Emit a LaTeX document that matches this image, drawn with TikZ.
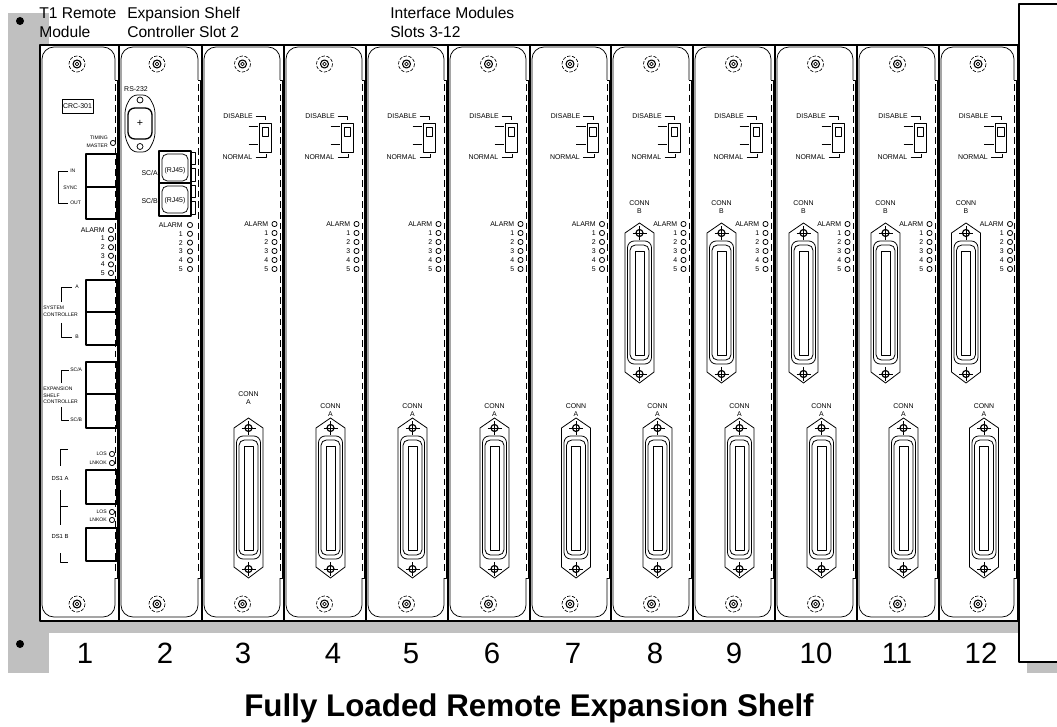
\documentclass[tikz,border=0pt]{standalone}
\usepackage{fontspec}
\setmainfont{Liberation Sans}
\definecolor{bg}{RGB}{192,192,192}
\newcommand\slotcard[2]{%
 \pgfmathsetmacro\sxl{#1+2}\pgfmathsetmacro\sxr{#2-4}%
 \draw[thinln, rounded corners=9] (\sxr,80) -- (\sxr,47) -- (\sxl,47) -- (\sxl,617) -- (\sxr,617) -- (\sxr,578);
 \draw[thinln] (\sxr,80) -- (\sxr+2,80) -- (\sxr+2,578) -- (\sxr,578);
 \draw[thinln, dash pattern=on 5pt off 3pt] (\sxr,84) -- (\sxr,574);
}
\begin{document}
\begin{tikzpicture}[x=0.75pt,y=-0.75pt,line join=round,
  lab/.style={font=\fontsize{5.2pt}{6pt}\selectfont, inner sep=0pt},
  tiny/.style={font=\fontsize{3.8pt}{4pt}\selectfont, inner sep=0pt},
  thinln/.style={line width=0.55pt},
  port/.style={line width=1pt},
  led/.style={line width=0.6pt},
  screw/.pic={
    \draw[line width=0.5pt, dash pattern=on 2.5pt off 1.2pt] (0,0) ellipse (8 and 8);
    \draw[line width=0.8pt] (0,0) circle (4);
    \draw[line width=0.5pt] (0,0) circle (1.8);
  },
  dconn/.pic={
    \draw[line width=0.6pt] (0,0) -- (14.5,10) -- (14.5,149) -- (0,160) -- (-14.5,149) -- (-14.5,10) -- cycle;
    \draw[line width=0.6pt, rounded corners=5] (-12,18) rectangle (12,141);
    \draw[line width=0.6pt, rounded corners=4] (-9.5,22) rectangle (9.5,137);
    \draw[line width=0.6pt] (-4.5,28) rectangle (4.5,132);
    \foreach \yy in {10,151} {
      \draw[line width=0.9pt] (0,\yy) circle (3.5);
      \draw[line width=0.6pt] (-7,\yy) -- (7,\yy) (0,\yy-7) -- (0,\yy+7);
    }
  }]
\useasboundingbox (0,0) rectangle (1057,727);
% background
\fill[bg] (8,13) rectangle (1057,673);
\fill[white] (49,0) rectangle (1019,45);
\fill[white] (49,633) rectangle (1027,673);
\draw[line width=1.5pt, fill=white] (1019,4) rectangle (1064,662);
\fill[white] (40,45) rectangle (1018,621);
\fill (20,21) circle (4);
\fill (20,644) circle (4);
% top labels
\begin{scope}[every node/.style={font=\fontsize{11.7pt}{12pt}\selectfont, inner sep=0pt, anchor=base west}]
\node (t1a) at (39,19) {T1 Remote};
\node (t1b) at (39,38) {Module};
\node (esa) at (127,19) {Expansion Shelf};
\node (esb) at (127,38) {Controller Slot 2};
\node (ima) at (390,19) {Interface Modules};
\node (imb) at (390,38) {Slots 3-12};
\end{scope}
% cards 1 and 2
\slotcard{40}{119}
\slotcard{119}{202}
\pic at (77,64) {screw};
\pic at (77,604) {screw};
\pic at (157,64) {screw};
\pic at (157,604) {screw};
% ---- card 1
\draw[thinln] (62,99) rectangle (93,113);
\node[lab] (crc) at (77.5,106) {CRC-301};
\node[tiny,anchor=east] (tim) at (108,138) {TIMING};
\node[tiny,anchor=east] (mas) at (108,146) {MASTER};
\draw[led] (113,143) circle (2.6);
\draw[port] (86,154) rectangle (117,187) (86,187) rectangle (117,219);
\draw[thinln] (68,171) -- (58,171) -- (58,203) -- (68,203);
\node[tiny,anchor=west] (in) at (70,171) {IN};
\node[tiny,anchor=west] (sync) at (63,188) {SYNC};
\node[tiny,anchor=west] (out) at (70,203) {OUT};
\foreach \t [count=\i from 0] in {ALARM,1,2,3,4,5}{
  \node[lab,anchor=east] (a1\i) at (105,230+8.6*\i) {\t};
  \draw[led] (111,230+8.6*\i) circle (2.6);
}
\draw[port] (86,280) rectangle (117,312) (86,312) rectangle (117,345);
\draw[thinln] (72,287) -- (61,287) -- (61,302) (61,323) -- (61,337) -- (72,337);
\node[tiny,anchor=west] (sca) at (75,287) {A};
\node[tiny,anchor=west] (scb) at (75,337) {B};
\node[tiny,anchor=west] (sys) at (43,308) {SYSTEM};
\node[tiny,anchor=west] (con) at (43,315) {CONTROLLER};
\draw[port] (86,362) rectangle (117,394) (86,394) rectangle (117,428);
\draw[thinln] (69,370) -- (61,370) -- (61,383) (61,407) -- (61,420) -- (69,420);
\node[tiny,anchor=west] (esca) at (70,370) {SC/A};
\node[tiny,anchor=west] (escb) at (70,420) {SC/B};
\node[tiny,anchor=west] (ex1) at (43,389) {EXPANSION};
\node[tiny,anchor=west] (ex2) at (43,396) {SHELF};
\node[tiny,anchor=west] (ex3) at (43,402) {CONTROLLER};
\draw[thinln] (68,449) -- (60,449) -- (60,466) (60,490) -- (60,525) (60,506) -- (68,506) (60,553) -- (60,562) -- (68,562);
\node[tiny,font=\fontsize{4.4pt}{5pt}\selectfont] (dsa) at (60,478) {DS1 A};
\node[tiny,font=\fontsize{4.4pt}{5pt}\selectfont] (dsb) at (60,536) {DS1 B};
\foreach \yy/\t in {454/LOS,463/LNKOK,512/LOS,520/LNKOK}{
  \node[tiny,anchor=east] at (107,\yy) {\t};
  \draw[led] (112,\yy) circle (2.6);
}
\draw[port] (86,470) rectangle (117,504) (86,528) rectangle (117,561);
% ---- card 2
\node[lab] (rs) at (136,89) {RS-232};
\draw[thinln, rounded corners=4] (132,95) -- (148,95) -- (155,108) -- (155,138) -- (148,152) -- (132,152) -- (125,138) -- (125,108) -- cycle;
\draw[line width=1pt, rounded corners=5] (128,108) rectangle (152,139);
\draw[thinln] (140,100) circle (3) (140,146.5) circle (3);
\node[inner sep=0pt, font=\fontsize{8pt}{8pt}\selectfont] (plus) at (140,123) {+};
\draw[port] (159,151) rectangle (191,183) (159,183) rectangle (191,216);
\draw[thinln, rounded corners=4] (162,154) rectangle (188,181) (162,186) rectangle (188,213);
\node[lab] (rj1) at (175,171) {(RJ45)};
\node[lab] (rj2) at (175,201) {(RJ45)};
\node[lab,anchor=east] (sc2a) at (158,173) {SC/A};
\node[lab,anchor=east] (sc2b) at (158,201) {SC/B};
\draw[thinln] (191,152) rectangle (195,164) (191,168) rectangle (195,181) (191,185) rectangle (195,197) (191,201) rectangle (195,214);
\foreach \t [count=\i from 0] in {ALARM,1,2,3,4,5}{
  \node[lab,anchor=east] (a2\i) at (183,225+8.8*\i) {\t};
  \draw[led] (190,225+8.8*\i) circle (2.6);
}
% ---- interface modules
\foreach \L/\R/\n in {202/284/3,284/366/4,366/448/5,448/530/6,530/611/7,611/693/8,693/775/9,775/857/10,857/939/11,939/1018/12}{
  \pgfmathsetmacro\cx{(\L+\R)/2-0.5}
  \slotcard{\L}{\R}
  \pic at (\cx,64) {screw};
  \pic at (\cx,604) {screw};
  \node[lab,anchor=east] (dis\n) at (\cx+10.5,116) {DISABLE};
  \draw[thinln] (\cx+13,116) -- (\cx+23,116) -- (\cx+23,120);
  \draw[thinln] (\cx+17,123) rectangle (\cx+28.5,152);
  \draw[thinln] (\cx+19.5,127) rectangle (\cx+26,136);
  \draw[thinln] (\cx+6,126) -- (\cx+15.5,126) (\cx+6,144) -- (\cx+15.5,144);
  \node[lab,anchor=east] (nor\n) at (\cx+10,157) {NORMAL};
  \draw[thinln] (\cx+13,157) -- (\cx+24,157) -- (\cx+24,154);
  \foreach \t [count=\i from 0] in {ALARM,1,2,3,4,5}{
    \node[lab,anchor=east] at (\cx+26,224+9*\i) {\t};
    \draw[led] (\cx+32,224+9*\i) circle (2.6);
  }
  \ifnum\n=3 \def\ly{394}\else\def\ly{406}\fi
  \node[lab] (ca\n) at (\cx+6,\ly) {CONN};
  \node[lab] (caa\n) at (\cx+6,\ly+8.5) {A};
  \pic at (\cx+6,418) {dconn};
  \ifnum\n>7
    \node[lab] (cb\n) at (\cx-12,203) {CONN};
    \node[lab] (cbb\n) at (\cx-12,211.5) {B};
    \pic at (\cx-12,223) {dconn};
  \fi
}
% dividers and frame
\foreach \x in {119,202,284,366,448,530,611,693,775,857,939}
  \draw[line width=1.6pt] (\x,45) -- (\x,621);
\draw[line width=1.6pt] (40,45) rectangle (1018,621);
% slot numbers
\foreach \x/\n in {85/1,165/2,243/3,333/4,411/5,492/6,573/7,655/8,734/9,816/10,897/11,981/12}
  \node[font=\fontsize{22pt}{22pt}\selectfont, inner sep=0pt, anchor=base] (num\n) at (\x,663) {\n};
\node[font=\bfseries\fontsize{23.5pt}{24pt}\selectfont, inner sep=0pt, anchor=base] (title) at (529,716) {Fully Loaded Remote Expansion Shelf};
\end{tikzpicture}
\end{document}
